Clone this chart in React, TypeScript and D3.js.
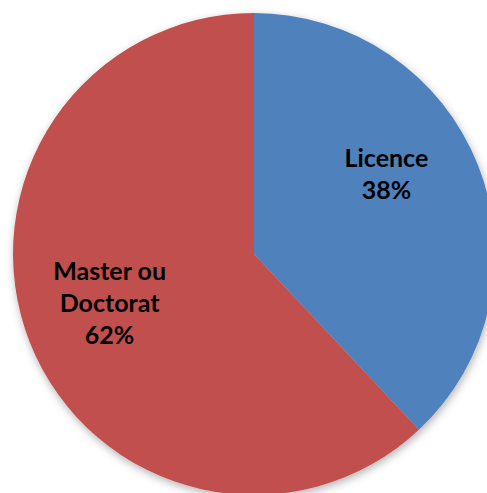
import { useEffect, useRef } from 'react';
import * as d3 from 'd3';

const categories = ['Licence', 'Master ou Doctorat'];
const values = [38, 62];
const labelLines = [['Licence', '38%'], ['Master ou', 'Doctorat', '62%']];
const colors = ['#4F81BD', '#C0504D'];

const width = 487;
const height = 493;

function App() {
  const svgRef = useRef<SVGSVGElement>(null);

  useEffect(() => {
    const svg = d3.select(svgRef.current);
    svg.selectAll('*').remove();

    const cx = 254;
    const cy = 254;
    const radius = 241;

    const defs = svg.append('defs');
    const filter = defs.append('filter')
      .attr('id', 'shadow')
      .attr('x', '-10%').attr('y', '-10%')
      .attr('width', '120%').attr('height', '120%');
    filter.append('feDropShadow')
      .attr('dx', 1).attr('dy', 3)
      .attr('stdDeviation', 4)
      .attr('flood-color', '#000')
      .attr('flood-opacity', 0.3);

    const data = categories.map((c, i) => ({ label: c, value: values[i], lines: labelLines[i], color: colors[i] }));

    const pie = d3.pie<any>().value(d => d.value).sort(null);
    const arcs = pie(data);
    const arc = d3.arc<any>().innerRadius(0).outerRadius(radius);
    const labelArc = d3.arc<any>().innerRadius(151).outerRadius(151);

    const g = svg.append('g').attr('transform', `translate(${cx},${cy})`);

    g.append('g')
      .attr('filter', 'url(#shadow)')
      .selectAll('path')
      .data(arcs)
      .join('path')
      .attr('d', arc)
      .attr('fill', d => d.data.color);

    // Excel "best fit" places labels slightly off the mid angle
    const nudge = [[-8, -24], [-4, -6]];
    const lineHeight = 32;

    const labels = g.selectAll('.label')
      .data(arcs)
      .join('text')
      .attr('class', 'label')
      .attr('text-anchor', 'middle')
      .attr('font-family', 'Lato, "Open Sans", sans-serif')
      .attr('font-weight', 'bold')
      .attr('font-size', '25px')
      .attr('fill', '#000')
      .attr('transform', (d, i) => {
        const [x, y] = labelArc.centroid(d);
        return `translate(${x + nudge[i][0]},${y + nudge[i][1]})`;
      });

    labels.each(function (d) {
      const n = d.data.lines.length;
      d3.select(this).selectAll('tspan')
        .data(d.data.lines)
        .join('tspan')
        .attr('x', 0)
        .attr('y', (_, j) => (j - (n - 1) / 2) * lineHeight)
        .attr('dy', '0.35em')
        .text(t => t as string);
    });
  }, []);

  return (
    <svg
      ref={svgRef}
      width={width}
      height={height}
      style={{ position: 'absolute', left: 0, top: 0, background: '#fff' }}
    />
  );
}

export default App;
